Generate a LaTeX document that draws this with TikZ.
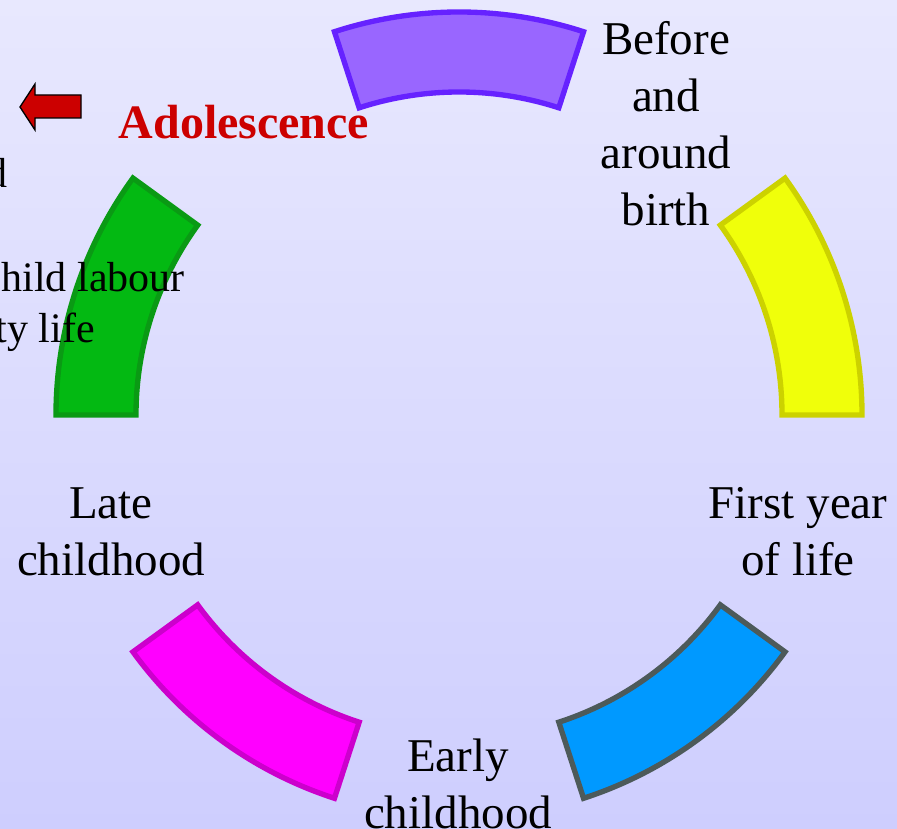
\documentclass[tikz,border=0pt]{standalone}
\usepackage{fontspec}
\setmainfont{Liberation Serif}
\usetikzlibrary{calc}
\definecolor{bgtop}{RGB}{232,232,254}
\definecolor{bgbottom}{RGB}{206,206,254}
\definecolor{violet}{RGB}{153,102,255}
\definecolor{violetline}{RGB}{102,34,255}
\definecolor{lemon}{RGB}{240,255,10}
\definecolor{lemonline}{RGB}{204,210,0}
\definecolor{sky}{RGB}{0,153,255}
\definecolor{skyline}{RGB}{77,90,90}
\definecolor{magenta}{RGB}{255,0,255}
\definecolor{magentaline}{RGB}{204,0,204}
\definecolor{leaf}{RGB}{3,185,18}
\definecolor{leafline}{RGB}{10,154,20}
\definecolor{alert}{RGB}{204,0,0}
\tikzset{
    ringseg/.style={
        line width=4pt,
        line join=miter
    },
    stage/.style={
        font=\fontsize{35.25}{42.75}\selectfont,
        align=center,
        text=black,
        inner sep=0pt
    },
    focus/.style={
        stage,
        font=\fontsize{36}{42.75}\selectfont\bfseries,
        text=alert
    },
    sidetext/.style={
        stage,
        font=\fontsize{31.5}{38.25}\selectfont
    },
    backarrow/.style={
        draw=black,
        fill=alert,
        line width=1pt,
        line join=miter
    }
}
\begin{document}
\begin{tikzpicture}[x=0.75pt, y=0.75pt]

\clip (0,0) rectangle (897,829);
\shade[top color=bgtop, bottom color=bgbottom] (0,0) rectangle (897,829);

\def\rout{403}
\def\rin{323}
\coordinate (hub) at (459,414);

% five ring pieces, 36 degrees each
\foreach \from/\fillc/\linec in {0/lemon/lemonline, 72/violet/violetline,
    144/leaf/leafline, 216/magenta/magentaline, 288/sky/skyline} {
    \pgfmathsetmacro{\upto}{\from + 36}
    \filldraw[ringseg, fill=\fillc, draw=\linec]
        ($(hub)+(\from:\rout)$) arc[start angle=\from, end angle=\upto, radius=\rout]
        -- ($(hub)+(\upto:\rin)$) arc[start angle=\upto, end angle=\from, radius=\rin]
        -- cycle;
}

% stage labels
\node[stage] (birth) at (666,705) {Before\\and\\around\\birth};
\node[stage] (firstyear) at (798,297) {First year\\of life};
\node[stage] (early) at (458,45) {Early\\childhood};
\node[stage] (late) at (111,297) {Late\\childhood};
\node[focus, anchor=base] (adol) at (244,690) {Adolescence};

% text running in from the left
\node[sidetext, anchor=base east] (cutd) at (8,641) {d};
\node[sidetext, anchor=base east] (cutlabour) at (185,537) {hild labour};
\node[sidetext, anchor=base east] (cutlife) at (95,486) {ty life};

\draw[backarrow] (20,722) -- (35,745) -- (35,734) -- (81,734)
    -- (81,711) -- (35,711) -- (35,699) -- cycle;

\end{tikzpicture}
\end{document}
